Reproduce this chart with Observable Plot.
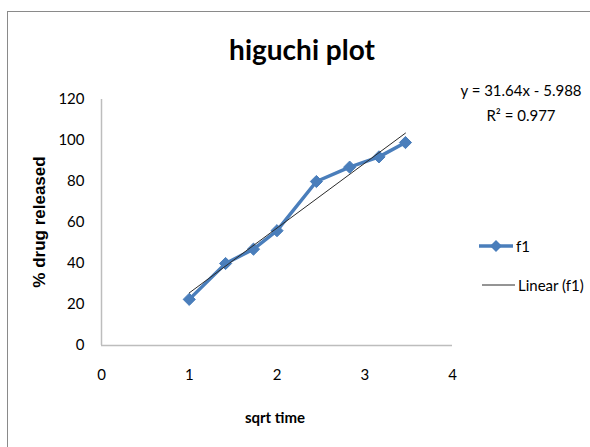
<!DOCTYPE html>
<html>
<head>
<meta charset="utf-8">
<script src="https://cdn.jsdelivr.net/npm/d3@7"></script>
<script src="https://cdn.jsdelivr.net/npm/@observablehq/plot@0.6"></script>
<style>
  html, body { margin: 0; padding: 0; background: #fff; }
  #chart { position: relative; width: 590px; height: 447px; overflow: hidden; font-family: Lato, "Open Sans", sans-serif; color: #000; }
  #chart svg.plot { position: absolute; left: 0; top: 0; }
  .border { position: absolute; left: 7px; top: 11px; width: 700px; height: 600px; border-top: 1.5px solid #8a8a8a; border-left: 1.5px solid #8a8a8a; box-sizing: border-box; }
  .title { position: absolute; left: 0; width: 604px; top: 32px; text-align: center; font-size: 28px; font-weight: bold; }
  .xlabel { position: absolute; left: 175px; width: 200px; top: 408px; text-align: center; font-size: 15px; font-weight: bold; }
  .ylabel { position: absolute; left: 40px; top: 222px; transform: translate(-50%, -50%) rotate(-90deg); white-space: nowrap; font-family: "Liberation Sans", Arial, sans-serif; font-size: 17px; font-weight: bold; }
  .eq { position: absolute; left: 451px; width: 140px; top: 78px; text-align: center; font-size: 15px; line-height: 25px; }
  .legend { position: absolute; left: 478px; font-size: 15px; display: flex; align-items: center; }
  .legend svg { margin-right: 2px; }
</style>
</head>
<body>
<div id="chart">
  <div class="border"></div>
</div>
<script>
// Higuchi model: cumulative drug release against square root of time
const sqrtTime = [1, 1.414, 1.732, 2, 2.449, 2.828, 3.162, 3.464];
const released = [22.5, 40, 47, 56, 80, 87, 92, 99];
const xTicks = [0, 1, 2, 3, 4];
const yTicks = [0, 20, 40, 60, 80, 100, 120];

// Least-squares fit reported on the chart
const fitSlope = 31.64;
const fitIntercept = -5.988;
const fitR2 = 0.977;

const seriesColor = "#4a7ebb";
const data = sqrtTime.map((x, i) => ({x, y: released[i]}));
const xExtent = d3.extent(sqrtTime);
const trend = xExtent.map(x => ({x, y: fitSlope * x + fitIntercept}));

const plot = Plot.plot({
  width: 590,
  height: 447,
  marginLeft: 101,
  marginRight: 138,
  marginTop: 99,
  marginBottom: 102,
  style: {fontFamily: "Lato, 'Open Sans', sans-serif", fontSize: "15px", color: "#000", background: "transparent", overflow: "visible"},
  x: {domain: [0, 4], ticks: xTicks, tickFormat: "d", tickSize: 0, tickPadding: 24, label: null},
  y: {domain: [0, 120], ticks: yTicks, tickFormat: "d", tickSize: 0, tickPadding: 17, label: null},
  marks: [
    Plot.ruleY([0], {stroke: "#bdbdbd", strokeWidth: 1.5}),
    Plot.ruleX([0], {stroke: "#bdbdbd", strokeWidth: 1.5}),
    Plot.line(data, {x: "x", y: "y", stroke: seriesColor, strokeWidth: 3.5}),
    Plot.dot(data, {x: "x", y: "y", symbol: "diamond2", r: 5.5, fill: seriesColor, stroke: seriesColor, strokeWidth: 1}),
    Plot.line(trend, {x: "x", y: "y", stroke: "#2b2b2b", strokeWidth: 1})
  ]
});
plot.classList.add("plot");

const chart = document.getElementById("chart");
chart.appendChild(plot);

function addDiv(cls, html, styleText) {
  const d = document.createElement("div");
  d.className = cls;
  d.innerHTML = html;
  if (styleText) d.style.cssText = styleText;
  chart.appendChild(d);
  return d;
}

addDiv("title", "higuchi plot");
addDiv("xlabel", "sqrt time");
addDiv("ylabel", "% drug released");
addDiv("eq", `y = ${fitSlope}x - ${Math.abs(fitIntercept)}<br>R² = ${fitR2}`);

addDiv("legend",
  `<svg width="36" height="14"><line x1="1" x2="35" y1="7" y2="7" stroke="${seriesColor}" stroke-width="3.5"/>` +
  `<path d="M18,1L24,7L18,13L12,7Z" fill="${seriesColor}"/></svg><span>f1</span>`,
  "top: 237px;");
addDiv("legend",
  `<svg width="38" height="14"><line x1="4" x2="37" y1="7" y2="7" stroke="#2b2b2b" stroke-width="1"/></svg><span>Linear (f1)</span>`,
  "top: 276px;");
</script>
</body>
</html>
